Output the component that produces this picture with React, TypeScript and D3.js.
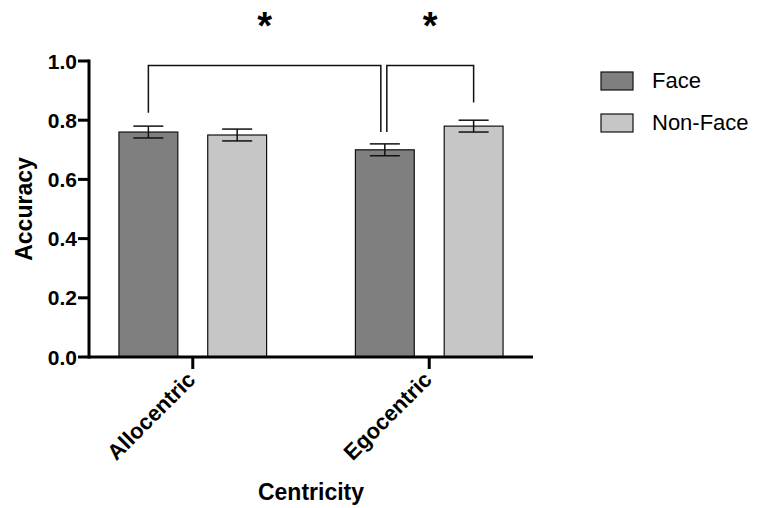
import { scaleBand, scaleLinear } from "d3";

const groups = ["Allocentric", "Egocentric"];
const series = ["Face", "Non-Face"];
const means = [
  [0.76, 0.75],
  [0.7, 0.78],
];
const sems = [
  [0.02, 0.02],
  [0.02, 0.02],
];
const yTicks = [0, 0.2, 0.4, 0.6, 0.8, 1.0];
// comparisons: [group, series] pairs, bracket top, and where each leg ends
const comparisons = [
  { a: [0, 0], b: [1, 0], top: 0.985, aEnd: 0.825, bEnd: 0.76, label: "*" },
  { a: [1, 0], b: [1, 1], top: 0.985, aEnd: 0.76, bEnd: 0.86, label: "*" },
];
const colors = ["#7f7f7f", "#c6c6c6"];
const font = "'Liberation Sans', Arial, Helvetica, sans-serif";

function App() {
  const W = 763;
  const H = 508;
  const x0 = 89;
  const x1 = 533;

  const y = scaleLinear().domain([0, 1]).range([357, 61]);
  const xg = scaleBand().domain(groups).range([x0, x1]).paddingInner(0.3755).paddingOuter(0.1266);
  const xs = scaleBand().domain(series).range([0, xg.bandwidth()]).paddingInner(0.337);

  const barCx = (g: number, s: number) =>
    (xg(groups[g]) as number) + (xs(series[s]) as number) + xs.bandwidth() / 2;

  return (
    <svg width={W} height={H} style={{ position: "absolute", left: 0, top: 0 }} fontFamily={font}>
      <rect width={W} height={H} fill="#fff" />

      {/* bars */}
      {groups.map((g, gi) =>
        series.map((s, si) => {
          const bx = (xg(g) as number) + (xs(s) as number);
          const v = means[gi][si];
          const e = sems[gi][si];
          const cx = bx + xs.bandwidth() / 2;
          return (
            <g key={g + s}>
              <rect
                x={bx}
                y={y(v)}
                width={xs.bandwidth()}
                height={y(0) - y(v)}
                fill={colors[si]}
                stroke="#111"
                strokeWidth={1.2}
              />
              <line x1={cx} x2={cx} y1={y(v - e)} y2={y(v + e)} stroke="#111" strokeWidth={1.5} />
              <line x1={cx - 15} x2={cx + 15} y1={y(v + e)} y2={y(v + e)} stroke="#111" strokeWidth={1.5} />
              <line x1={cx - 15} x2={cx + 15} y1={y(v - e)} y2={y(v - e)} stroke="#111" strokeWidth={1.5} />
            </g>
          );
        })
      )}

      {/* significance brackets */}
      {comparisons.map((c, i) => {
        const shareLeft = i > 0 && comparisons[i - 1].b[0] === c.a[0] && comparisons[i - 1].b[1] === c.a[1];
        const shareRight = i < comparisons.length - 1 && comparisons[i + 1].a[0] === c.b[0] && comparisons[i + 1].a[1] === c.b[1];
        const xa = barCx(c.a[0], c.a[1]) + (shareLeft ? 2 : 0);
        const xb = barCx(c.b[0], c.b[1]) - (shareRight ? 4 : 0);
        return (
          <g key={"cmp" + i}>
            <path
              d={`M${xa},${y(c.aEnd)}V${y(c.top)}H${xb}V${y(c.bEnd)}`}
              fill="none"
              stroke="#111"
              strokeWidth={1.5}
            />
            <text x={(xa + xb) / 2} y={39} textAnchor="middle" fontSize={38} fontWeight="bold">
              {c.label}
            </text>
          </g>
        );
      })}

      {/* y axis */}
      <line x1={x0} x2={x0} y1={y(1) - 1.5} y2={y(0) + 1.5} stroke="#000" strokeWidth={3} />
      {yTicks.map((t) => (
        <g key={t}>
          <line x1={x0 - 11} x2={x0} y1={y(t)} y2={y(t)} stroke="#000" strokeWidth={3} />
          <text x={x0 - 12} y={y(t)} dy="0.36em" textAnchor="end" fontSize={21} fontWeight="bold">
            {t.toFixed(1)}
          </text>
        </g>
      ))}
      <text
        transform={`translate(32,${(y(0) + y(1)) / 2}) rotate(-90)`}
        textAnchor="middle"
        fontSize={23}
        fontWeight="bold"
      >
        Accuracy
      </text>

      {/* x axis */}
      <line x1={x0} x2={x1} y1={y(0)} y2={y(0)} stroke="#000" strokeWidth={3} />
      {groups.map((g) => {
        const cx = (xg(g) as number) + xg.bandwidth() / 2;
        return (
          <g key={g}>
            <line x1={cx} x2={cx} y1={y(0)} y2={y(0) + 12} stroke="#000" strokeWidth={3} />
            <text
              transform={`translate(${cx + 4},${y(0) + 24}) rotate(-45)`}
              textAnchor="end"
              fontSize={22}
              fontWeight="bold"
            >
              {g}
            </text>
          </g>
        );
      })}
      <text x={(x0 + x1) / 2} y={500} textAnchor="middle" fontSize={23} fontWeight="bold">
        Centricity
      </text>

      {/* legend */}
      {series.map((s, si) => (
        <g key={"lg" + s} transform={`translate(601,${72 + si * 42})`}>
          <rect width={32} height={18} fill={colors[si]} stroke="#111" strokeWidth={1.2} />
          <text x={51} y={16} fontSize={22}>
            {s}
          </text>
        </g>
      ))}
    </svg>
  );
}

export default App;
